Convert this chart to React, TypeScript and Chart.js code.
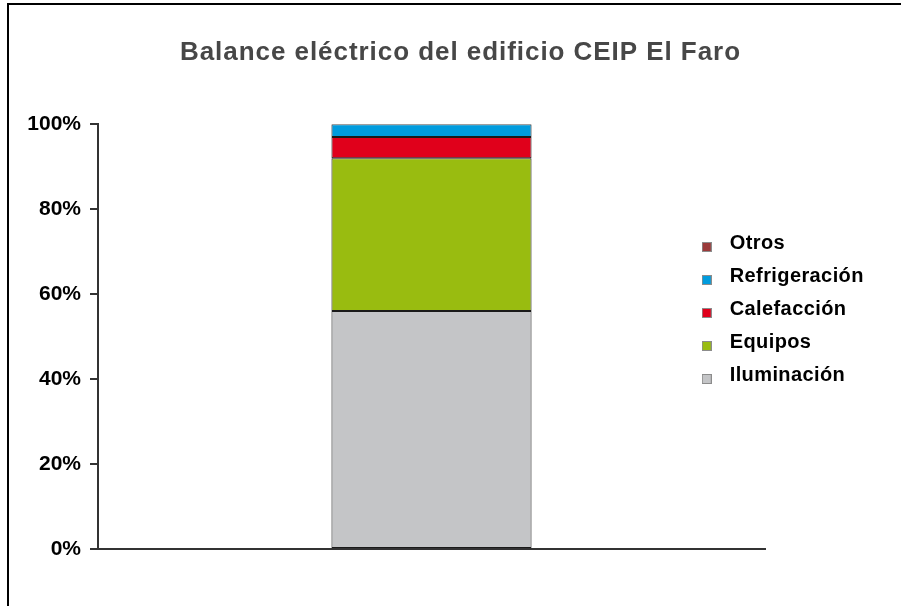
import React, { useEffect, useRef } from 'react';
import { Chart, registerables } from 'chart.js';

Chart.register(...registerables);

const chartTitle = 'Balance eléctrico del edificio CEIP El Faro';
const categories = ['CEIP El Faro'];
const seriesNames = ['Iluminación', 'Equipos', 'Calefacción', 'Refrigeración', 'Otros'];
const iluminacion = [56];
const equipos = [36];
const calefaccion = [5];
const refrigeracion = [3];
const otros = [0];
const seriesColors = ['#C4C5C7', '#99BC10', '#E0001B', '#009CDE', '#9B3A3A'];
const yTickValues = [0, 20, 40, 60, 80, 100];

const FONT = "'Liberation Sans', Arial, Helvetica, sans-serif";

function makeSwatch(color: string) {
  const c = document.createElement('canvas');
  c.width = 10;
  c.height = 18;
  const ctx = c.getContext('2d')!;
  ctx.fillStyle = '#8c8c8c';
  ctx.fillRect(0, 8, 10, 10);
  ctx.fillStyle = color;
  ctx.fillRect(1, 9, 8, 8);
  return c;
}

function withSpacing(box: any, spacing: string) {
  if (!box || box.__spaced) return;
  box.__spaced = true;
  const orig = box.draw.bind(box);
  box.draw = (...args: any[]) => {
    const ctx = box.ctx as any;
    const prev = ctx.letterSpacing;
    ctx.letterSpacing = spacing;
    orig(...args);
    ctx.letterSpacing = prev || '0px';
  };
}

const layoutTweaks = {
  id: 'layoutTweaks',
  afterLayout(chart: any) {
    const lg = chart.legend;
    if (lg) {
      const w = lg.width;
      lg.left = 680.7;
      lg.right = lg.left + w;
      lg.top = 220;
      lg.bottom = lg.top + 320;
      withSpacing(lg, '0.4px');
    }
    withSpacing(chart.titleBlock, '0.95px');
  },
};

export default function App() {
  const ref = useRef<HTMLCanvasElement>(null);

  useEffect(() => {
    if (!ref.current) return;
    const seriesData = [iluminacion, equipos, calefaccion, refrigeracion, otros];
    const swatches = seriesColors.map(makeSwatch);
    const chart = new Chart(ref.current, {
      type: 'bar',
      data: {
        labels: categories,
        datasets: seriesNames.map((name, i) => ({
          label: name,
          data: seriesData[i],
          backgroundColor: seriesColors[i],
          borderColor: '#1a1a1a',
          borderWidth: 1,
          borderSkipped: false,
          barPercentage: 0.3,
          categoryPercentage: 1,
        })),
      },
      options: {
        responsive: false,
        animation: false,
        layout: { padding: { left: 20, right: 0, top: 0, bottom: 57 } },
        scales: {
          x: {
            stacked: true,
            afterFit: (s: any) => {
              s.height = 0;
            },
            ticks: { display: false },
            grid: { display: false },
            border: { display: true, color: '#333', width: 2 },
          },
          y: {
            stacked: true,
            min: 0,
            max: 100,
            afterFit: (s: any) => {
              s.width = 78;
            },
            afterBuildTicks: (s: any) => {
              s.ticks = yTickValues.map((v) => ({ value: v }));
            },
            ticks: {
              callback: (v: any) => v + '%',
              font: { family: FONT, size: 21, weight: 'bold' },
              color: '#000',
              padding: 9,
            },
            grid: { drawOnChartArea: false, drawTicks: true, tickLength: 8, color: '#333', lineWidth: 2 },
            border: { display: true, color: '#333', width: 2 },
          },
          legendSpace: {
            type: 'linear',
            position: 'right',
            display: true,
            afterFit: (s: any) => {
              s.width = 136;
            },
            ticks: { display: false },
            grid: { display: false },
            border: { display: false },
          },
        },
        plugins: {
          title: {
            display: true,
            text: chartTitle,
            color: '#474747',
            font: { family: FONT, size: 26, weight: 'bold' },
            padding: { top: 37, bottom: 56 },
          },
          legend: {
            position: 'chartArea',
            align: 'start',
            reverse: true,
            labels: {
              usePointStyle: true,
              pointStyleWidth: 26,
              boxHeight: 10,
              padding: 13,
              color: '#000',
              font: { family: FONT, size: 20, weight: 'bold' },
              generateLabels: (c: any) => {
                const items = (Chart.defaults.plugins.legend.labels as any).generateLabels(c);
                return items.map((it: any) => ({ ...it, pointStyle: swatches[it.datasetIndex], fontColor: '#000' }));
              },
            },
          },
          tooltip: { enabled: false },
        },
      } as any,
      plugins: [layoutTweaks],
    });
    return () => chart.destroy();
  }, []);

  return (
    <div style={{ position: 'absolute', left: 0, top: 0, width: 901, height: 606, overflow: 'hidden', background: '#fff' }}>
      <div
        style={{
          position: 'absolute',
          left: 7,
          top: 3,
          width: 900,
          height: 610,
          borderLeft: '2px solid #000',
          borderTop: '2px solid #000',
          boxSizing: 'border-box',
        }}
      />
      <canvas ref={ref} width={901} height={606} style={{ position: 'absolute', left: 0, top: 0 }} />
    </div>
  );
}
